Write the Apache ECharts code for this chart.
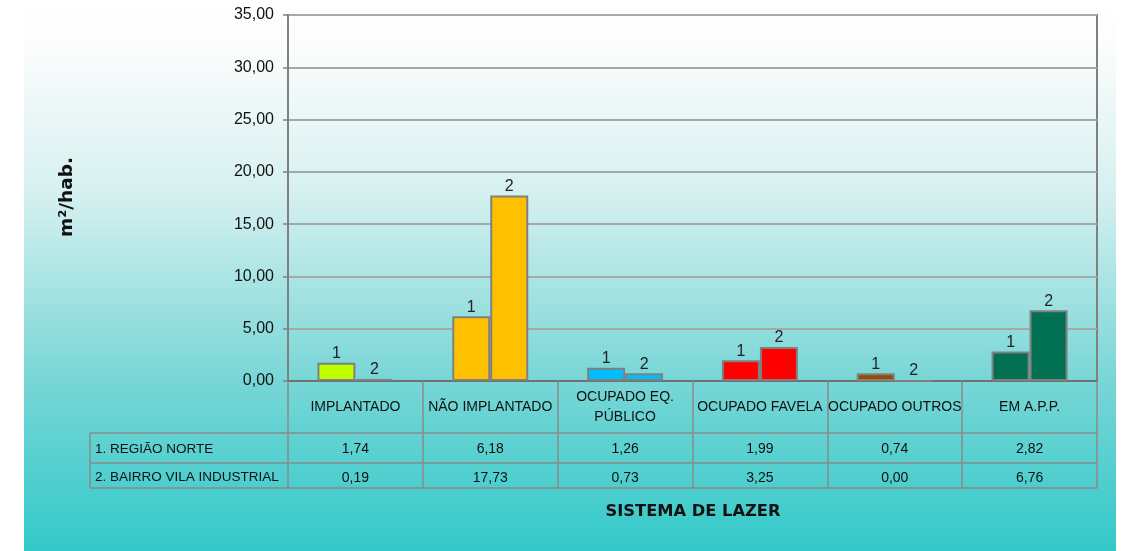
<!DOCTYPE html>
<html>
<head>
<meta charset="utf-8">
<script src="https://cdn.jsdelivr.net/npm/echarts@6/dist/echarts.min.js"></script>
<style>html,body{margin:0;padding:0;background:#fff;}#c{width:1122px;height:551px;}</style>
</head>
<body>
<div id="c"></div>
<script>
const categories = ['IMPLANTADO', 'NÃO IMPLANTADO', 'OCUPADO EQ.\nPÚBLICO', 'OCUPADO FAVELA', 'OCUPADO OUTROS', 'EM A.P.P.'];
const seriesNames = ['1. REGIÃO NORTE', '2. BAIRRO VILA INDUSTRIAL'];
const regiaoNorte = [1.74, 6.18, 1.26, 1.99, 0.74, 2.82];
const bairroVilaIndustrial = [0.19, 17.73, 0.73, 3.25, 0.00, 6.76];
const barColors = ['#bfff00', '#ffc000', '#00bfff', '#ff0000', '#964b00', '#006f52'];
const yTicks = [0, 5, 10, 15, 20, 25, 30, 35];

const fmt = v => Number(v).toFixed(2).replace('.', ',');
const chart = echarts.init(document.getElementById('c'), null, {renderer: 'canvas'});
const FONT = 'Liberation Sans';
const gridCfg = {left: 288, top: 15, width: 809, height: 366};
const lineCol = '#8a8a8a';

function barSeries(name, data, label) {
  return {
    name: name, type: 'bar', data: data,
    barGap: '0%', barWidth: 38,
    itemStyle: {color: p => barColors[p.dataIndex], borderColor: '#808080', borderWidth: 2},
    label: {show: true, position: 'top', distance: 1, formatter: label, fontFamily: FONT, fontSize: 16, color: '#222'},
    emphasis: {disabled: true}, animation: false
  };
}

const option = {
  animation: false,
  graphic: [
    {type: 'rect', z: -10, silent: true, shape: {x: 24, y: 0, width: 1092, height: 551},
     style: {fill: new echarts.graphic.LinearGradient(0, 0, 0, 1, [
       {offset: 0, color: '#ffffff'}, {offset: 0.09, color: '#fbfcfc'}, {offset: 0.35, color: '#d6f0f0'},
       {offset: 0.69, color: '#78d6d6'}, {offset: 1, color: '#33c9c9'}])}},
    {type: 'line', z: 5, shape: {x1: 90, y1: 433, x2: 288, y2: 433}, style: {stroke: lineCol, lineWidth: 1.5}},
    {type: 'line', z: 5, shape: {x1: 90, y1: 463, x2: 288, y2: 463}, style: {stroke: lineCol, lineWidth: 1.5}},
    {type: 'line', z: 5, shape: {x1: 90, y1: 488, x2: 288, y2: 488}, style: {stroke: lineCol, lineWidth: 1.5}},
    {type: 'line', z: 5, shape: {x1: 90, y1: 433, x2: 90, y2: 488}, style: {stroke: lineCol, lineWidth: 1.5}},
    {type: 'text', z: 5, x: 95, y: 449, style: {text: seriesNames[0], fontFamily: FONT, fontSize: 13.5, fill: '#111', verticalAlign: 'middle'}},
    {type: 'text', z: 5, x: 95, y: 477, style: {text: seriesNames[1], fontFamily: FONT, fontSize: 13.5, fill: '#111', verticalAlign: 'middle'}},
    {type: 'text', z: 5, x: 67, y: 197, rotation: Math.PI / 2,
     style: {text: 'm²/hab.', fontFamily: 'DejaVu Sans', fontWeight: 'bold', fontSize: 18.5, fill: '#111', align: 'center', verticalAlign: 'middle'}},
    {type: 'text', z: 5, x: 693, y: 512,
     style: {text: 'SISTEMA DE LAZER', fontFamily: 'DejaVu Sans', fontWeight: 'bold', fontSize: 16.3, fill: '#111', align: 'center', verticalAlign: 'middle'}}
  ],
  grid: Object.assign({show: true, borderColor: '#808080', borderWidth: 2, backgroundColor: 'transparent'}, gridCfg),
  xAxis: [
    {type: 'category', data: categories, position: 'bottom',
     axisLine: {show: true, lineStyle: {color: '#707070', width: 2}},
     axisTick: {show: true, alignWithLabel: false, length: 107, lineStyle: {color: lineCol, width: 1.5}},
     axisLabel: {interval: 0, fontFamily: FONT, fontSize: 14, color: '#111', margin: 26, lineHeight: 20, verticalAlign: 'middle'}},
    {type: 'category', data: categories, position: 'bottom', offset: 52,
     axisLine: {show: true, lineStyle: {color: lineCol, width: 1.5}}, axisTick: {show: false},
     axisLabel: {interval: 0, margin: 16, verticalAlign: 'middle', fontFamily: FONT, fontSize: 14, color: '#111', formatter: (v, i) => fmt(regiaoNorte[i])}},
    {type: 'category', data: categories, position: 'bottom', offset: 82,
     axisLine: {show: true, lineStyle: {color: lineCol, width: 1.5}}, axisTick: {show: false},
     axisLabel: {interval: 0, margin: 15, verticalAlign: 'middle', fontFamily: FONT, fontSize: 14, color: '#111', formatter: (v, i) => fmt(bairroVilaIndustrial[i])}},
    {type: 'category', data: categories, position: 'bottom', offset: 107,
     axisLine: {show: true, lineStyle: {color: lineCol, width: 1.5}}, axisTick: {show: false}, axisLabel: {show: false}}
  ],
  yAxis: {
    type: 'value', min: yTicks[0], max: yTicks[yTicks.length - 1], interval: yTicks[1] - yTicks[0],
    axisLine: {show: true, lineStyle: {color: '#808080', width: 2}},
    axisTick: {show: true, length: 5, lineStyle: {color: '#808080', width: 1.5}},
    splitLine: {show: true, lineStyle: {color: '#a6a8a8', width: 2}},
    axisLabel: {margin: 14, fontFamily: FONT, fontSize: 16, color: '#111', formatter: v => fmt(v)}
  },
  series: [
    barSeries(seriesNames[0], regiaoNorte, '1'),
    barSeries(seriesNames[1], bairroVilaIndustrial, '2')
  ]
};
chart.setOption(option);
</script>
</body>
</html>
